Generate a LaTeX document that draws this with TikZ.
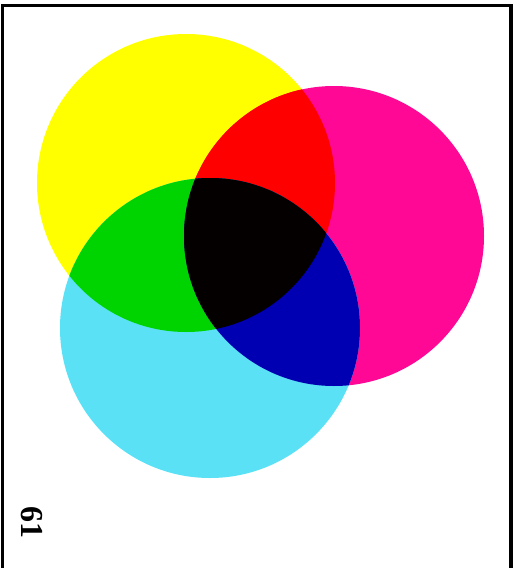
\documentclass[tikz,border=0pt]{standalone}
\usepackage{fontspec}
\newfontfamily\numfont{Liberation Serif}
\definecolor{cyel}{RGB}{255,255,0}
\definecolor{cmag}{RGB}{255,8,150}
\definecolor{ccya}{RGB}{90,225,245}
\definecolor{cred}{RGB}{255,0,0}
\definecolor{cgrn}{RGB}{0,212,0}
\definecolor{cblu}{RGB}{0,0,178}
\definecolor{cblk}{RGB}{4,0,0}
\begin{document}
\begin{tikzpicture}[x=1pt,y=-1pt]
\useasboundingbox (0,0) rectangle (514,568);
\fill[white] (0,0) rectangle (514,568);
\def\Ycirc{(186,183) circle[radius=149]}
\def\Mcirc{(334,236) circle[radius=150]}
\def\Ccirc{(210,328) circle[radius=150]}
% single colours
\fill[cyel] \Ycirc;
\fill[cmag] \Mcirc;
\fill[ccya] \Ccirc;
% pairwise overlaps
\begin{scope}
  \clip \Ycirc;
  \fill[cred] \Mcirc;
  \fill[cgrn] \Ccirc;
\end{scope}
\begin{scope}
  \clip \Mcirc;
  \fill[cblu] \Ccirc;
\end{scope}
% triple overlap
\begin{scope}
  \clip \Ycirc;
  \clip \Mcirc;
  \fill[cblk] \Ccirc;
\end{scope}
% frame (open at bottom)
\draw[line width=3.2pt, line join=miter] (2.6,568) -- (2.6,5.6) -- (511,5.6) -- (511,568);
\node[rotate=-90, inner sep=0pt] (num) at (32,522) {\numfont\fontsize{32}{32}\selectfont\bfseries 61};
\end{tikzpicture}
\end{document}
